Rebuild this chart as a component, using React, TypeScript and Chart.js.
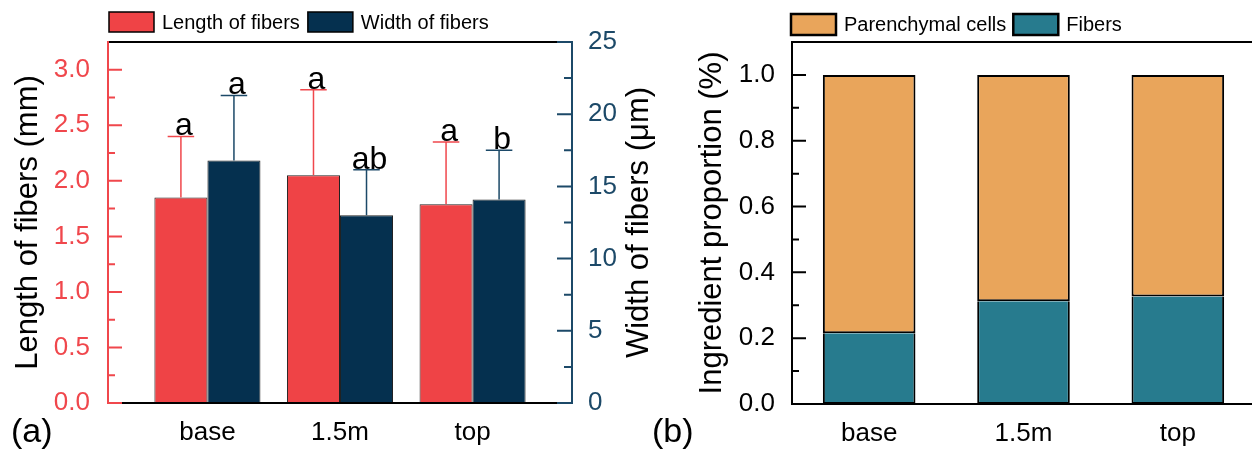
import React, { useEffect, useRef } from 'react';
import { Chart, registerables } from 'chart.js';

Chart.register(...registerables);

// ---------- data ----------
const categories = ['base', '1.5m', 'top'];

const fiberLength = [1.85, 2.05, 1.79];
const fiberLengthErr = [0.55, 0.77, 0.56];
const fiberLengthLetters = ['a', 'a', 'a'];

const fiberWidth = [16.8, 13.0, 14.1];
const fiberWidthErr = [4.5, 3.15, 3.4];
const fiberWidthLetters = ['a', 'ab', 'b'];

const lengthTicks = [0, 0.5, 1.0, 1.5, 2.0, 2.5, 3.0];
const widthTicks = [0, 5, 10, 15, 20, 25];

const fibersShare = [0.215, 0.312, 0.327];
const parenchymaShare = [0.785, 0.688, 0.673];
const proportionTicks = [0, 0.2, 0.4, 0.6, 0.8, 1.0];

// ---------- styles ----------
const FONT = '"Liberation Sans", Arial, Helvetica, sans-serif';
const RED = '#EF4346';
const RED_AXIS = '#F0474C';
const NAVY = '#05304F';
const NAVY_AXIS = '#1C4968';
const ORANGE = '#E9A55B';
const TEAL = '#277B8E';

// ---------- plugins ----------
const errorBarPlugin = {
  id: 'errorBars',
  afterDatasetsDraw(chart: any) {
    const ctx = chart.ctx;
    chart.data.datasets.forEach((ds: any, di: number) => {
      if (!ds.errors) return;
      const meta = chart.getDatasetMeta(di);
      const scale = chart.scales[meta.yAxisID];
      meta.data.forEach((bar: any, i: number) => {
        const v = ds.data[i];
        const yTop = scale.getPixelForValue(v + ds.errors[i]);
        const x = bar.x;
        const half = bar.width * 0.25;
        ctx.save();
        ctx.strokeStyle = ds.errorColor;
        ctx.lineWidth = 1.5;
        ctx.beginPath();
        ctx.moveTo(x, bar.y);
        ctx.lineTo(x, yTop);
        ctx.moveTo(x - half, yTop);
        ctx.lineTo(x + half, yTop);
        ctx.stroke();
        ctx.fillStyle = '#000';
        ctx.font = `32px ${FONT}`;
        ctx.textAlign = 'center';
        ctx.textBaseline = 'alphabetic';
        ctx.fillText(ds.letters[i], x + 3, yTop - 1);
        ctx.restore();
      });
    });
  },
};

const decorPlugin = {
  id: 'decor',
  afterDraw(chart: any, _args: any, opts: any) {
    const ctx = chart.ctx;
    const ca = chart.chartArea;
    ctx.save();
    // frame
    const f = opts.frame;
    ctx.lineWidth = 2;
    const line = (x1: number, y1: number, x2: number, y2: number, c: string) => {
      ctx.strokeStyle = c;
      ctx.beginPath();
      ctx.moveTo(x1, y1);
      ctx.lineTo(x2, y2);
      ctx.stroke();
    };
    line(ca.left, ca.top, ca.right, ca.top, f.top);
    line(ca.left, ca.bottom, ca.right, ca.bottom, f.bottom);
    if (f.right) line(ca.right, ca.top - 1, ca.right, ca.bottom + 1, f.right);
    line(ca.left, ca.top - 1, ca.left, ca.bottom + 1, f.left);

    // axis ticks (inward) with minor ticks at midpoints
    (opts.axes || []).forEach((ax: any) => {
      const s = chart.scales[ax.id];
      const x0 = ax.side === 'left' ? ca.left - 1 : ca.right + 1;
      const dir = ax.side === 'left' ? 1 : -1;
      ctx.strokeStyle = ax.color;
      ctx.lineWidth = 2;
      ctx.beginPath();
      ax.major.forEach((v: number) => {
        const y = s.getPixelForValue(v);
        ctx.moveTo(x0, y);
        ctx.lineTo(x0 + dir * ax.majorLen, y);
      });
      for (let k = 0; k < ax.major.length - 1; k++) {
        const y = s.getPixelForValue((ax.major[k] + ax.major[k + 1]) / 2);
        ctx.moveTo(x0, y);
        ctx.lineTo(x0 + dir * ax.minorLen, y);
      }
      ctx.stroke();
    });

    // rotated side titles
    (opts.sideTitles || []).forEach((t: any) => {
      ctx.save();
      ctx.translate(t.x, (ca.top + ca.bottom) / 2);
      ctx.rotate(-Math.PI / 2);
      ctx.font = `${t.size}px ${FONT}`;
      ctx.fillStyle = t.color;
      ctx.textAlign = 'center';
      ctx.textBaseline = 'alphabetic';
      ctx.fillText(t.text, 0, 0);
      ctx.restore();
    });

    // panel label
    if (opts.panel) {
      ctx.font = `34px ${FONT}`;
      ctx.fillStyle = '#000';
      ctx.textAlign = 'left';
      ctx.textBaseline = 'alphabetic';
      ctx.fillText(opts.panel.text, opts.panel.x, opts.panel.y);
    }

    // legend
    const lg = opts.legend;
    if (lg) {
      let x = ca.left + lg.dx;
      ctx.font = `${lg.size}px ${FONT}`;
      lg.order.forEach((di: number) => {
        const ds = chart.data.datasets[di];
        ctx.fillStyle = ds.backgroundColor;
        ctx.fillRect(x, lg.top, lg.w, lg.h);
        ctx.strokeStyle = '#000';
        ctx.lineWidth = lg.border;
        ctx.strokeRect(x, lg.top, lg.w, lg.h);
        ctx.fillStyle = '#000';
        ctx.textAlign = 'left';
        ctx.textBaseline = 'middle';
        const tx = x + lg.w + lg.gap;
        ctx.fillText(ds.label, tx, lg.top + lg.h / 2 + 1);
        x = tx + ctx.measureText(ds.label).width + lg.itemGap;
      });
    }
    ctx.restore();
  },
};

const tickFont = { size: 26, family: FONT };

export default function App() {
  const leftRef = useRef<HTMLCanvasElement>(null);
  const rightRef = useRef<HTMLCanvasElement>(null);

  useEffect(() => {
    const left = new Chart(leftRef.current as HTMLCanvasElement, {
      type: 'bar',
      data: {
        labels: categories.map((_, i) => i),
        datasets: [
          {
            label: 'Length of fibers',
            data: fiberLength,
            yAxisID: 'y',
            backgroundColor: RED,
            borderColor: '#222',
            borderWidth: 1,
            borderSkipped: false,
            categoryPercentage: 0.8,
            barPercentage: 1.0,
            errors: fiberLengthErr,
            letters: fiberLengthLetters,
            errorColor: RED_AXIS,
          } as any,
          {
            label: 'Width of fibers',
            data: fiberWidth,
            yAxisID: 'y1',
            backgroundColor: NAVY,
            borderColor: '#222',
            borderWidth: 1,
            borderSkipped: false,
            categoryPercentage: 0.8,
            barPercentage: 1.0,
            errors: fiberWidthErr,
            letters: fiberWidthLetters,
            errorColor: NAVY_AXIS,
          } as any,
        ],
      },
      options: {
        responsive: false,
        animation: false,
        events: [],
        layout: { padding: { top: 42, left: 0, right: 0, bottom: 0 } },
        plugins: {
          legend: { display: false },
          tooltip: { enabled: false },
          decor: {
            frame: { top: '#000', bottom: '#000', left: RED_AXIS, right: NAVY_AXIS },
            axes: [
              { id: 'y', side: 'left', color: RED_AXIS, major: lengthTicks, majorLen: 15, minorLen: 8 },
              { id: 'y1', side: 'right', color: NAVY_AXIS, major: widthTicks, majorLen: 16, minorLen: 9 },
            ],
            sideTitles: [{ text: 'Width of fibers (μm)', x: 648, size: 31, color: '#000' }],
            panel: { text: '(a)', x: 11, y: 442 },
            legend: { order: [0, 1], dx: 1, top: 12, w: 45, h: 20, border: 1.5, gap: 8, itemGap: 8, size: 20 },
          },
        } as any,
        scales: {
          x: {
            type: 'linear',
            min: -0.75,
            max: 2.75,
            offset: false,
            grid: { display: false, drawTicks: false, offset: false },
            border: { display: false },
            afterBuildTicks: (ax: any) => {
              ax.ticks = categories.map((_, i) => ({ value: i }));
            },
            afterFit: (ax: any) => {
              ax.height = 48;
            },
            ticks: {
              autoSkip: false,
              maxRotation: 0,
              padding: 14,
              color: '#000',
              font: tickFont,
              callback: (v: any) => categories[v] ?? '',
            },
          },
          y: {
            position: 'left',
            min: 0,
            max: 3.25,
            grid: { display: false, drawTicks: false },
            border: { display: false },
            afterBuildTicks: (ax: any) => {
              ax.ticks = lengthTicks.map((v) => ({ value: v }));
            },
            afterFit: (ax: any) => {
              ax.width = 108;
            },
            ticks: {
              padding: 18,
              color: RED_AXIS,
              font: tickFont,
              callback: (v: any) => Number(v).toFixed(1),
            },
            title: {
              display: true,
              text: 'Length of fibers (mm)',
              color: '#000',
              font: { size: 31, family: FONT },
              padding: { top: 10, bottom: 0 },
            },
          },
          y1: {
            position: 'right',
            min: 0,
            max: 25,
            grid: { display: false, drawTicks: false },
            border: { display: false },
            afterBuildTicks: (ax: any) => {
              ax.ticks = widthTicks.map((v) => ({ value: v }));
            },
            afterFit: (ax: any) => {
              ax.width = 88;
            },
            ticks: {
              padding: 16,
              color: NAVY_AXIS,
              font: tickFont,
              callback: (v: any) => String(v),
            },
          },
        } as any,
      },
      plugins: [errorBarPlugin, decorPlugin],
    } as any);

    const right = new Chart(rightRef.current as HTMLCanvasElement, {
      type: 'bar',
      data: {
        labels: categories,
        datasets: [
          {
            label: 'Fibers',
            data: fibersShare,
            backgroundColor: TEAL,
            borderColor: '#000',
            borderWidth: { top: 0, left: 2, right: 2, bottom: 2 },
            borderSkipped: false,
            categoryPercentage: 0.6,
            barPercentage: 1.0,
          } as any,
          {
            label: 'Parenchymal cells',
            data: parenchymaShare,
            backgroundColor: ORANGE,
            borderColor: '#000',
            borderWidth: 2,
            borderSkipped: false,
            categoryPercentage: 0.6,
            barPercentage: 1.0,
          } as any,
        ],
      },
      options: {
        responsive: false,
        animation: false,
        events: [],
        layout: { padding: { top: 42, left: 0, right: 25, bottom: 0 } },
        plugins: {
          legend: { display: false },
          tooltip: { enabled: false },
          decor: {
            frame: { top: '#000', bottom: '#000', left: '#000', right: '#000' },
            axes: [{ id: 'y', side: 'left', color: '#000', major: proportionTicks, majorLen: 15, minorLen: 8 }],
            panel: { text: '(b)', x: 12, y: 442 },
            legend: { order: [1, 0], dx: -1, top: 14, w: 45, h: 21, border: 2.5, gap: 8, itemGap: 7, size: 20 },
          },
        } as any,
        scales: {
          x: {
            stacked: true,
            grid: { display: false, drawTicks: false },
            border: { display: false },
            afterFit: (ax: any) => {
              ax.height = 47;
            },
            ticks: { padding: 14, color: '#000', font: tickFont, maxRotation: 0 },
          },
          y: {
            stacked: true,
            min: 0,
            max: 1.1,
            grid: { display: false, drawTicks: false },
            border: { display: false },
            afterBuildTicks: (ax: any) => {
              ax.ticks = proportionTicks.map((v) => ({ value: v }));
            },
            afterFit: (ax: any) => {
              ax.width = 152;
            },
            ticks: {
              padding: 17,
              color: '#000',
              font: tickFont,
              callback: (v: any) => Number(v).toFixed(1),
            },
            title: {
              display: true,
              text: 'Ingredient proportion (%)',
              color: '#000',
              font: { size: 31, family: FONT },
              padding: { top: 54, bottom: 0 },
            },
          },
        } as any,
      },
      plugins: [decorPlugin],
    } as any);

    return () => {
      left.destroy();
      right.destroy();
    };
  }, []);

  return (
    <div
      style={{
        position: 'fixed',
        left: 0,
        top: 0,
        width: 1252,
        height: 451,
        overflow: 'hidden',
        background: '#fff',
      }}
    >
      <canvas ref={leftRef} width={660} height={451} style={{ position: 'absolute', left: 0, top: 0 }} />
      <canvas ref={rightRef} width={640} height={451} style={{ position: 'absolute', left: 640, top: 0 }} />
    </div>
  );
}
